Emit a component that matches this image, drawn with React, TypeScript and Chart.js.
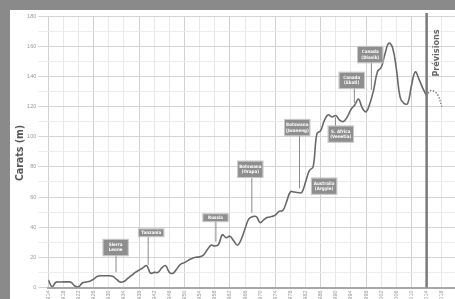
import React, { useEffect, useRef } from "react";
import { Chart, registerables } from "chart.js";

Chart.register(...registerables);

const years = [
  1914, 1915, 1916, 1917, 1918, 1919, 1920, 1921, 1922, 1923,
  1924, 1925, 1926, 1927, 1928, 1929, 1930, 1931, 1932, 1933,
  1934, 1935, 1936, 1937, 1938, 1939, 1940, 1941, 1942, 1943,
  1944, 1945, 1946, 1947, 1948, 1949, 1950, 1951, 1952, 1953,
  1954, 1955, 1956, 1957, 1958, 1959, 1960, 1961, 1962, 1963,
  1964, 1965, 1966, 1967, 1968, 1969, 1970, 1971, 1972, 1973,
  1974, 1975, 1976, 1977, 1978, 1979, 1980, 1981, 1982, 1983,
  1984, 1985, 1986, 1987, 1988, 1989, 1990, 1991, 1992, 1993,
  1994, 1995, 1996, 1997, 1998, 1999, 2000, 2001, 2002, 2003,
  2004, 2005, 2006, 2007, 2008, 2009, 2010, 2011, 2012, 2013,
  2014,
];

const carats = [
  5, 0.5, 3.5, 3.6, 3.7, 3.7, 3.5, 1, 0.5, 3,
  3.6, 4.2, 5.5, 7.5, 7.8, 7.8, 7.8, 7.5, 5.5, 3.6,
  4, 6, 8, 10, 11.5, 13, 14.5, 9.5, 10, 10,
  13, 14.5, 10, 9.5, 12.5, 15.5, 16.5, 18, 19.3, 20,
  20.3, 21.5, 25, 28, 27.5, 28.5, 35, 33, 34, 31,
  28, 32, 39, 45.5, 47, 47, 43, 45, 46.5, 47,
  48, 50.5, 51, 57, 63.5, 63.3, 63, 63, 70, 77.5,
  80, 102, 104, 111, 114.5, 113, 114, 111, 110, 113,
  118, 121, 125, 119, 116.5, 122, 131, 143, 146, 155,
  162, 159, 145, 126, 122, 122, 134, 143, 138, 132,
  127,
];

const forecastYears = [2014, 2015, 2016, 2017, 2018];
const forecastCarats = [127, 130.5, 130, 127.5, 120];

const xTickYears = [
  1914, 1918, 1922, 1926, 1930, 1934, 1938, 1942, 1946, 1950,
  1954, 1958, 1962, 1966, 1970, 1974, 1978, 1982, 1986, 1990,
  1994, 1998, 2002, 2006, 2010, 2014, 2018,
];

const forecastStart = 2014;
const forecastLabel = "Prévisions";
const yAxisTitle = "Carats (m)";

const annoLabels = [
  ["Sierra", "Leone"],
  ["Tanzania"],
  ["Russia"],
  ["Botswana", "(Orapa)"],
  ["Botswana", "(Jwaneng)"],
  ["Australia", "(Argyle)"],
  ["S. Africa", "(Venetia)"],
  ["Canada", "(Ekati)"],
  ["Canada", "(Diavik)"],
];
const annoYears = [1931.8, 1941.2, 1958.2, 1967.4, 1979.8, 1986.9, 1991.3, 1994.2, 1999.1];
const annoValues = [26.5, 36.3, 46.3, 78.4, 106, 67.2, 101.7, 137.3, 154.4];
const leaderYears = [1931.9, 1940.4, 1958.3, 1967.8, 1980.4, 1984.6, 1989.9, 1994.9, 1999.4];
const leaderValues = [10, 15, 30.4, 49.6, 65.8, null, 112.9, 122.3, 131];

const FONT = '"DejaVu Sans Condensed", "DejaVu Sans", sans-serif';
const TICK_FONT = '"Liberation Sans", Arial, sans-serif';

export default function App() {
  const ref = useRef<HTMLCanvasElement>(null);

  useEffect(() => {
    const canvas = ref.current;
    if (!canvas) return;

    const annoPlugin = {
      id: "annoPlugin",
      afterDatasetsDraw(chart: any) {
        const { ctx, chartArea } = chart;
        const x = chart.scales.x;
        const y = chart.scales.y;
        ctx.save();

        // forecast divider line
        const px = x.getPixelForValue(forecastStart);
        ctx.strokeStyle = "#7a7a7a";
        ctx.lineWidth = 2.5;
        ctx.beginPath();
        ctx.moveTo(px, chartArea.top - 3);
        ctx.lineTo(px, chartArea.bottom);
        ctx.stroke();

        ctx.save();
        ctx.translate(px + 10, chartArea.top + 37);
        ctx.rotate(-Math.PI / 2);
        ctx.fillStyle = "#666";
        ctx.font = `bold 9px ${FONT}`;
        ctx.textAlign = "center";
        ctx.textBaseline = "middle";
        ctx.fillText(forecastLabel, 0, 0);
        ctx.restore();

        // y axis title
        ctx.save();
        ctx.translate(10, 143);
        ctx.rotate(-Math.PI / 2);
        ctx.fillStyle = "#555";
        ctx.font = `bold 10.5px ${FONT}`;
        ctx.textAlign = "center";
        ctx.textBaseline = "middle";
        ctx.fillText(yAxisTitle, 0, 0);
        ctx.restore();

        // annotations
        for (let i = 0; i < annoLabels.length; i++) {
          const lines = annoLabels[i];
          const cx = x.getPixelForValue(annoYears[i]);
          const cy = y.getPixelForValue(annoValues[i]);
          const w = 24.5;
          const h = lines.length === 1 ? 7 : 15.5;
          const top = cy - h / 2;
          const bottom = cy + h / 2;
          const lv = leaderValues[i];
          if (lv !== null) {
            const lx = x.getPixelForValue(leaderYears[i]);
            const ly = y.getPixelForValue(lv);
            ctx.strokeStyle = "#8a8a8a";
            ctx.lineWidth = 1;
            ctx.beginPath();
            ctx.moveTo(lx, ly < top ? top : bottom);
            ctx.lineTo(lx, ly);
            ctx.stroke();
          }
          ctx.strokeStyle = "#c8c8c8";
          ctx.lineWidth = 1;
          ctx.strokeRect(cx - w / 2 - 0.5, top - 0.5, w + 1, h + 1);
          ctx.fillStyle = "#8e8e8e";
          ctx.fillRect(cx - w / 2, top, w, h);
          ctx.fillStyle = "#fff";
          ctx.font = `bold 4.5px ${FONT}`;
          ctx.textAlign = "center";
          ctx.textBaseline = "middle";
          lines.forEach((t, j) => {
            ctx.fillText(t, cx, cy + (j - (lines.length - 1) / 2) * 5.5);
          });
        }
        ctx.restore();
      },
    };

    const chart = new Chart(canvas, {
      type: "line",
      data: {
        datasets: [
          {
            data: years.map((yr, i) => ({ x: yr, y: carats[i] })),
            borderColor: "#686868",
            borderWidth: 1.6,
            pointRadius: 0,
            tension: 0.4,
            fill: false,
          },
          {
            data: forecastYears.map((yr, i) => ({ x: yr, y: forecastCarats[i] })),
            borderColor: "#777",
            borderWidth: 1.3,
            borderDash: [1.5, 1.5],
            pointRadius: 0,
            tension: 0.4,
            fill: false,
          },
        ],
      },
      options: {
        animation: false,
        responsive: false,
        devicePixelRatio: 1,
        layout: { padding: { top: 6, left: 0, right: 0, bottom: 0 } },
        plugins: { legend: { display: false }, tooltip: { enabled: false } },
        scales: {
          x: {
            type: "linear",
            min: 1914,
            max: 2021.5,
            afterBuildTicks: (s: any) => {
              s.ticks = xTickYears.map((v) => ({ value: v }));
            },
            afterFit: (s: any) => {
              s.height = 22.5;
            },
            grid: {
              color: (c: any) =>
                ((c.tick?.value ?? 0) - 1914) % 12 === 0 ? "#d0d0d0" : "#e8e8e8",
              lineWidth: 1,
              drawTicks: false,
            },
            border: { display: true, color: "#a8a8a8", width: 2 },
            ticks: {
              autoSkip: false,
              maxRotation: 90,
              minRotation: 90,
              padding: 3,
              color: "#999",
              font: { size: 5.5, family: TICK_FONT },
              callback: (v: any) => String(v),
            },
          },
          y: {
            min: 0,
            max: 180,
            afterFit: (s: any) => {
              s.width = 38.3;
            },
            ticks: {
              stepSize: 10,
              padding: 2,
              color: "#999",
              font: { size: 5.5, family: TICK_FONT },
              callback: (v: any) => (v % 20 === 0 ? String(v) : ""),
            },
            grid: {
              color: (c: any) => ((c.tick?.value ?? 0) % 20 === 0 ? "#d4d4d4" : "#ececec"),
              lineWidth: 1,
              drawTicks: true,
              tickLength: 10,
            },
            border: { display: false },
          },
        },
      },
      plugins: [annoPlugin],
    });

    return () => chart.destroy();
  }, []);

  return (
    <div
      style={{
        position: "fixed",
        left: 0,
        top: 0,
        width: 455,
        height: 299,
        background: "#8a8a8a",
        overflow: "hidden",
      }}
    >
      <div
        style={{
          position: "absolute",
          left: 10,
          top: 10,
          width: 445,
          height: 300,
          background: "#fff",
        }}
      >
        <canvas ref={ref} width={445} height={300} style={{ display: "block" }} />
      </div>
    </div>
  );
}
